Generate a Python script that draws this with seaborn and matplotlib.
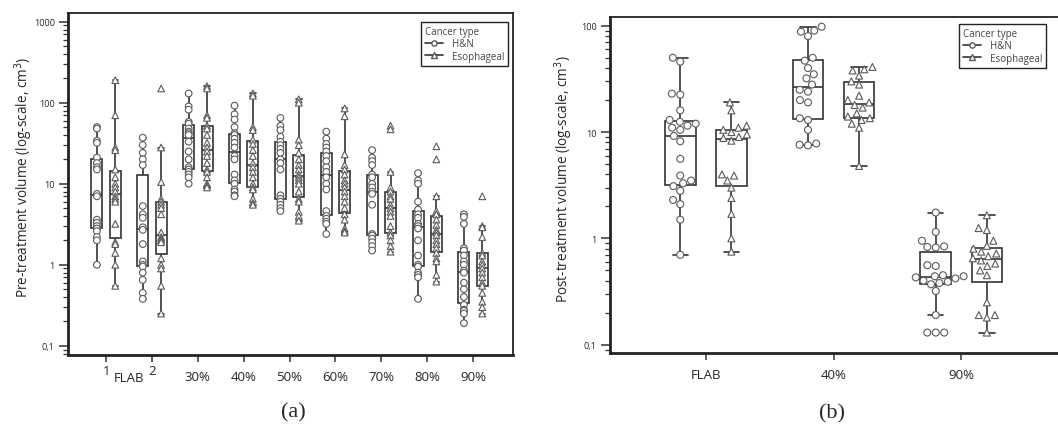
import warnings
import numpy as np
import pandas as pd
import matplotlib
matplotlib.use("Agg")
import matplotlib.pyplot as plt
import matplotlib.transforms as mtrans
from matplotlib.lines import Line2D
from matplotlib.ticker import LogLocator, NullFormatter
import seaborn as sns

warnings.filterwarnings("ignore")

# ---- data (cm^3) ----
cancer_types = ["H&N", "Esophageal"]

pre_groups = ["1", "2", "30%", "40%", "50%", "60%", "70%", "80%", "90%"]
pre_hn = [
    [50, 48, 34, 32, 21, 18, 16, 15, 7.5, 7, 3.6, 3.3, 3.0, 2.8, 2.6, 2.2, 2.0, 1.0],
    [37, 30, 24, 20, 17, 5.3, 4.2, 3.8, 2.9, 2.7, 1.8, 1.1, 1.0, 0.95, 0.8, 0.65, 0.45, 0.38],
    [130, 90, 82, 58, 55, 48, 44, 42, 40, 33, 25, 20, 16, 15, 14, 13, 12, 10],
    [92, 72, 62, 50, 42, 40, 36, 32, 28, 22, 20, 13, 11, 10, 8.5, 8, 7.2, 7],
    [65, 52, 46, 38, 33, 30, 27, 24, 20, 18, 15, 7.2, 6.5, 6, 5.5, 5, 4.6],
    [44, 36, 31, 28, 25, 22, 19, 16, 14, 12, 10, 8.5, 4.6, 4.0, 3.7, 3.4, 3.2, 2.4],
    [26, 21, 19, 17, 13, 12, 10, 9, 8, 7.5, 5.5, 2.4, 2.3, 2.1, 1.9, 1.7, 1.5],
    [13.5, 11, 10, 6, 4.8, 4.2, 3.8, 3.2, 3.0, 2.8, 2.0, 1.3, 1.0, 0.95, 0.8, 0.75, 0.7, 0.38],
    [4.2, 3.9, 3.2, 1.6, 1.5, 1.3, 1.1, 1.0, 0.85, 0.8, 0.6, 0.5, 0.4, 0.32, 0.28, 0.27, 0.25, 0.19],
]
pre_eso = [
    [190, 70, 28, 26, 15, 12, 10, 9, 8, 7, 6.5, 6, 3.2, 1.9, 1.8, 1.4, 1.0, 0.55],
    [150, 28, 10.5, 6.5, 6, 5.5, 5, 4.2, 2.5, 2.2, 2.1, 2.0, 1.9, 1.2, 1.0, 0.9, 0.55, 0.25],
    [160, 150, 70, 65, 52, 48, 40, 32, 28, 25, 22, 18, 15, 14, 12, 10, 9.5, 9],
    [130, 122, 50, 46, 35, 31, 26, 22, 18, 16, 14, 12, 10, 9, 8.5, 6.5, 5.8, 5.5],
    [110, 100, 35, 30, 24, 20, 17, 15, 13, 12, 11, 10, 8, 6.5, 6, 4.5, 4, 3.5],
    [85, 68, 23, 17, 15, 13, 11, 10, 9, 8, 7, 6, 5, 4.2, 3.6, 2.8, 2.6, 2.5],
    [52, 47, 14, 9, 8, 7, 6.5, 5.5, 5, 4.5, 4, 3, 2.5, 2.3, 2.0, 1.7, 1.45],
    [29, 20, 7, 4.6, 4.2, 3.6, 3.1, 2.7, 2.5, 2.3, 2.0, 1.8, 1.6, 1.4, 1.2, 1.1, 0.75, 0.62],
    [7, 3, 2.9, 2.2, 1.4, 1.3, 1.1, 1.0, 0.9, 0.8, 0.7, 0.6, 0.55, 0.45, 0.35, 0.3, 0.25],
]

post_groups = ["FLAB", "40%", "90%"]
post_hn = [
    [50, 46, 23, 22.5, 16, 13, 12.5, 12, 11.5, 11, 10.5, 9.2, 8.2, 5.6, 3.9, 3.5, 3.3, 3.1, 2.8, 2.3, 2.1, 1.5, 0.7],
    [98, 90, 88, 80, 50, 47, 40, 35, 32, 28, 25, 24, 20, 19, 13.5, 13, 10.5, 7.8, 7.6, 7.5],
    [1.75, 1.15, 0.95, 0.84, 0.83, 0.82, 0.56, 0.55, 0.45, 0.44, 0.44, 0.43, 0.42, 0.40,
     0.39, 0.38, 0.37, 0.32, 0.19, 0.13, 0.13, 0.13],
]
post_eso = [
    [19, 16, 11.5, 11, 10.5, 10, 9.5, 9, 8.8, 8.3, 4.0, 3.9, 3.5, 3.0, 2.4, 1.7, 1.0, 0.75],
    [41, 39, 38, 34, 30, 28, 22, 20, 19, 18, 17, 15, 14, 13.5, 13, 12, 11, 4.8],
    [1.65, 1.25, 1.2, 0.95, 0.85, 0.8, 0.75, 0.72, 0.68, 0.65, 0.62, 0.58, 0.55, 0.5,
     0.45, 0.25, 0.19, 0.19, 0.18, 0.13],
]


def to_long(groups, hn, eso):
    rows = []
    for g, a, b in zip(groups, hn, eso):
        rows += [(g, "H&N", v) for v in a]
        rows += [(g, "Esophageal", v) for v in b]
    return pd.DataFrame(rows, columns=["group", "type", "volume"])


df_pre = to_long(pre_groups, pre_hn, pre_eso)
df_post = to_long(post_groups, post_hn, post_eso)

sns.set_style("ticks")
plt.rcParams["font.family"] = ["Open Sans", "DejaVu Sans"]

LINE = "#333333"
EDGE = "#5a5a5a"
white = {"H&N": "white", "Esophageal": "white"}

W, H = 1058, 431
fig = plt.figure(figsize=(W / 100, H / 100), dpi=100)
ax1 = fig.add_axes([68 / W, 1 - 356 / H, (513 - 68) / W, (356 - 14) / H])
ax2 = fig.add_axes([610 / W, 1 - 354 / H, (1075 - 610) / W, (354 - 18) / H])


def draw(ax, df, order, msize, swarm):
    sns.boxplot(data=df, x="group", y="volume", hue="type", order=order,
                hue_order=cancer_types, palette=white, linecolor=LINE,
                linewidth=1.2, width=0.8, gap=0.4, whis=1.5, showfliers=False,
                log_scale=True, legend=False, ax=ax)
    for t, m in zip(cancer_types, ["o", "^"]):
        sub = df[df["type"] == t]
        kw = dict(data=sub, x="group", y="volume", hue="type", order=order,
                  hue_order=cancer_types, palette=white, dodge=True, marker=m,
                  size=msize, edgecolor=EDGE, linewidth=0.8, legend=False, ax=ax)
        if swarm:
            sns.swarmplot(**kw)
        else:
            sns.stripplot(jitter=False, **kw)


draw(ax1, df_pre, pre_groups, 4.8, swarm=False)
draw(ax2, df_post, post_groups, 5.0, swarm=True)

ax1.set_ylim(0.077, 1280)
ax1.set_xlim(-0.83, 8.87)
ax2.set_ylim(0.0835, 121)
ax2.set_xlim(-0.75, 2.89)

for ax in (ax1, ax2):
    ax.set_xlabel("")
    ax.yaxis.set_minor_locator(LogLocator(base=10, subs=np.arange(2, 10)))
    ax.yaxis.set_minor_formatter(NullFormatter())
    ax.tick_params(axis="y", which="major", length=6.5, width=1.1, pad=3,
                   labelsize=6.5, color=LINE)
    ax.tick_params(axis="y", which="minor", length=3.5, width=0.9, color=LINE)
    ax.tick_params(axis="x", length=5, width=1.1, pad=6, labelsize=9.5, color=LINE)
    for s in ax.spines.values():
        s.set_visible(True)
        s.set_linewidth(1.3)
        s.set_color("#222222")
    ax.spines["left"].set_linewidth(2)
    ax.spines["bottom"].set_linewidth(2)

ax1.set_yticks([0.1, 1, 10, 100, 1000], ["0,1", "1", "10", "100", "1000"])
ax2.set_yticks([0.1, 1, 10, 100], ["0,1", "1", "10", "100"])

ax1.set_xticks(range(len(pre_groups)), ["", ""] + pre_groups[2:])
trans = mtrans.blended_transform_factory(ax1.transData, ax1.transAxes)
ax1.text(0, -0.045, "1", transform=trans, ha="center", va="center", fontsize=9.5)
ax1.text(1, -0.045, "2", transform=trans, ha="center", va="center", fontsize=9.5)
ax1.text(0.5, -0.066, "FLAB", transform=trans, ha="center", va="center", fontsize=9.5)

ax1.set_ylabel("Pre-treatment volume (log-scale, cm$^3$)", fontsize=9.8)
ax2.set_ylabel("Post-treatment volume (log-scale, cm$^3$)", fontsize=9.8)
ax1.yaxis.set_label_coords(-0.074, 0.523)
ax2.yaxis.set_label_coords(-0.075, 0.52)

handles = [
    Line2D([0], [0], color=LINE, lw=1.2, marker="o", markersize=3.8,
           markerfacecolor="white", markeredgecolor=EDGE),
    Line2D([0], [0], color=LINE, lw=1.2, marker="^", markersize=3.8,
           markerfacecolor="white", markeredgecolor=EDGE),
]
for ax, anchor in ((ax1, (508 / W, 1 - 23 / H)), (ax2, (1046 / W, 1 - 25 / H))):
    leg = ax.legend(handles, cancer_types, title="Cancer type", loc="upper right",
                    bbox_to_anchor=anchor, bbox_transform=fig.transFigure,
                    fontsize=7, title_fontsize=7, handlelength=1.9,
                    handletextpad=0.9, labelspacing=0.15, borderpad=0.4,
                    borderaxespad=0, fancybox=False, edgecolor="#222222",
                    framealpha=1, alignment="left")
    leg.get_frame().set_linewidth(1.0)
    leg.get_title().set_color("#444444")
    for t in leg.get_texts():
        t.set_color("#444444")

fig.text(293 / W, 1 - 413 / H, "(a)", ha="center", va="center",
         fontsize=16, family="Liberation Serif")
fig.text(832 / W, 1 - 414 / H, "(b)", ha="center", va="center",
         fontsize=16, family="Liberation Serif")

fig.savefig("out.png", dpi=100)
